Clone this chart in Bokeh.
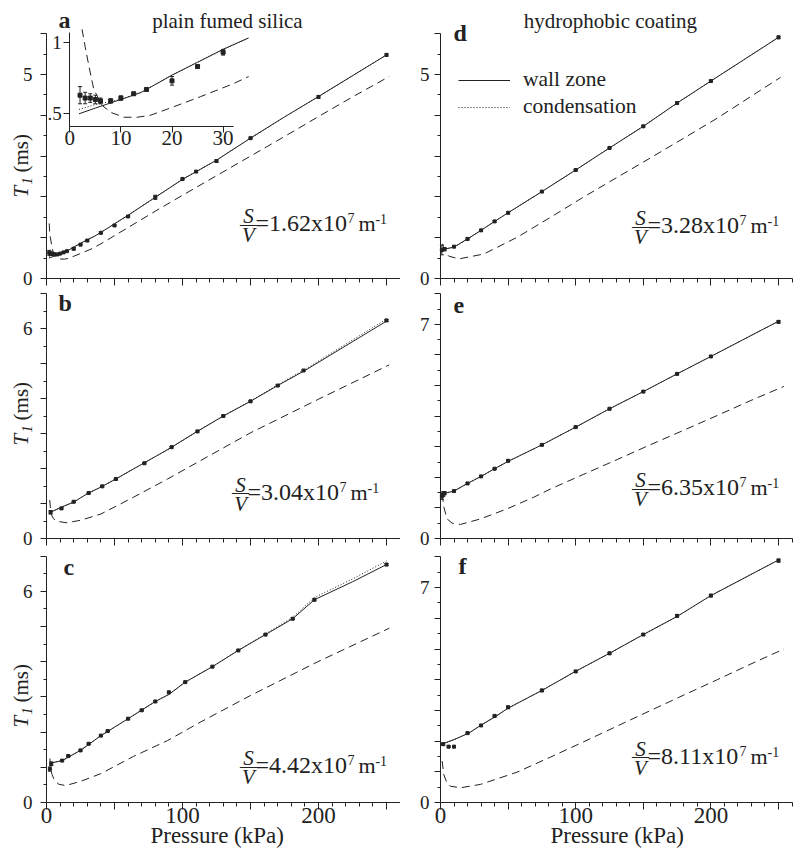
import math
from bokeh.plotting import figure
from bokeh.layouts import gridplot
from bokeh.models import (ColumnDataSource, Range1d, LinearAxis, FixedTicker, Label,
                          Legend, LegendItem, Whisker, TeeHead)
from bokeh.embed import file_html
from bokeh.resources import INLINE

FONT = "Liberation Serif"
INK = "#222222"

# ---------------- axis ticks ----------------
x_major = [0, 50, 100, 150, 200, 250]
x_minor = [10, 20, 30, 40, 60, 70, 80, 90, 110, 120, 130, 140, 160, 170, 180, 190,
           210, 220, 230, 240, 260]
x_tick_labels = {0: "0", 100: "100", 200: "200"}

# ---------------- panel a : plain fumed silica, S/V = 1.62e7 ----------------
a_fit_p = [1.8, 5, 10, 14, 20, 25, 30, 35, 40, 50, 60, 80, 100, 125, 150, 175, 200, 225, 250]
a_wall_t = [0.50, 0.54, 0.60, 0.65, 0.77, 0.86, 0.95, 1.03, 1.13, 1.34, 1.55, 1.99, 2.43,
            2.90, 3.44, 3.96, 4.46, 4.97, 5.48]
a_cond_t = [0.53, 0.565, 0.60, 0.65, 0.77, 0.86, 0.95, 1.03, 1.13, 1.34, 1.55, 1.99, 2.43,
            2.90, 3.44, 3.96, 4.46, 4.97, 5.48]
a_dash_p = [2.0, 2.4, 3.0, 3.7, 4.7, 6.3, 8, 10.6, 13.2, 15.8, 20.4, 25.6, 32, 35, 40, 50,
            60, 80, 100, 125, 150, 175, 200, 225, 252]
a_dash_t = [1.35, 1.09, 0.97, 0.84, 0.67, 0.56, 0.51, 0.476, 0.476, 0.49, 0.55, 0.62, 0.71,
            0.76, 0.85, 1.05, 1.25, 1.65, 2.04, 2.52, 3.0, 3.48, 3.97, 4.45, 4.95]
a_pts_p = [2, 3, 4, 5, 6, 8, 10, 12.5, 15, 20, 25, 30, 40, 50, 60, 80, 100, 110, 125, 150, 200, 250]
a_pts_t = [0.63, 0.61, 0.61, 0.60, 0.59, 0.59, 0.61, 0.64, 0.67, 0.73, 0.83, 0.93, 1.12, 1.30,
           1.52, 1.99, 2.44, 2.62, 2.88, 3.44, 4.45, 5.48]
a_pts_e = [0.06, 0.04, 0.03, 0.03, 0.02, 0.015, 0.015, 0.01, 0.01, 0.03, 0.01, 0.02, 0.02,
           0.02, 0.02, 0.05, 0.02, 0.02, 0.03, 0.02, 0.03, 0.03]

# ---------------- panel b : S/V = 3.04e7 ----------------
b_fit_p = [2, 10, 20, 30, 40, 50, 70, 90, 110, 130, 150, 170, 190, 210, 230, 250]
b_wall_t = [0.73, 0.88, 1.04, 1.28, 1.47, 1.68, 2.12, 2.56, 3.04, 3.50, 3.92, 4.37, 4.80,
            5.27, 5.74, 6.21]
b_cond_t = [0.73, 0.88, 1.04, 1.28, 1.47, 1.68, 2.12, 2.56, 3.04, 3.50, 3.93, 4.39, 4.83,
            5.31, 5.79, 6.27]
b_dash_p = [2.4, 3, 4, 5, 8, 15, 25, 40, 64, 89, 113, 150, 200, 252]
b_dash_t = [1.10, 0.82, 0.65, 0.57, 0.49, 0.45, 0.52, 0.70, 1.18, 1.70, 2.22, 3.02, 3.98, 4.96]
b_pts_p = [3, 11, 20, 31, 41, 51, 72, 92, 111, 130, 150, 170, 189, 250]
b_pts_t = [0.75, 0.86, 1.05, 1.30, 1.49, 1.70, 2.15, 2.61, 3.06, 3.50, 3.92, 4.37, 4.80, 6.23]
b_pts_e = [0.05, 0.02, 0.02, 0.02, 0.02, 0.02, 0.02, 0.02, 0.02, 0.02, 0.02, 0.02, 0.02, 0.03]

# ---------------- panel c : S/V = 4.42e7 ----------------
c_fit_p = [3, 11.5, 25, 40, 60, 80, 90, 102, 122, 141, 161, 181, 197, 225, 250]
c_wall_t = [1.12, 1.19, 1.48, 1.90, 2.38, 2.87, 3.07, 3.42, 3.86, 4.32, 4.77, 5.22, 5.76,
            6.27, 6.76]
c_cond_t = [1.12, 1.19, 1.48, 1.90, 2.38, 2.87, 3.07, 3.42, 3.86, 4.32, 4.79, 5.26, 5.82,
            6.35, 6.86]
c_dash_p = [2.5, 3, 4, 6, 9, 14, 25, 40, 64, 89, 113, 150, 199, 252]
c_dash_t = [1.25, 1.00, 0.80, 0.62, 0.52, 0.48, 0.60, 0.82, 1.31, 1.76, 2.28, 3.04, 3.99, 4.95]
c_pts_p = [2.5, 3.5, 11.5, 16, 25, 31, 40, 45, 60, 70, 80, 90, 102, 122, 141, 161, 181, 197, 250]
c_pts_t = [0.95, 1.10, 1.19, 1.32, 1.48, 1.67, 1.90, 2.03, 2.38, 2.62, 2.87, 3.13, 3.42, 3.86,
           4.32, 4.77, 5.22, 5.76, 6.76]
c_pts_e = [0.06, 0.05, 0.02, 0.02, 0.02, 0.02, 0.02, 0.02, 0.02, 0.02, 0.02, 0.03, 0.02, 0.02,
           0.02, 0.02, 0.02, 0.03, 0.03]

# ---------------- panel d : hydrophobic coating, S/V = 3.28e7 ----------------
d_fit_p = [0.5, 3, 10, 20, 30, 40, 50, 75, 100, 125, 150, 175, 200, 250]
d_wall_t = [0.64, 0.72, 0.77, 0.97, 1.18, 1.40, 1.61, 2.13, 2.66, 3.20, 3.73, 4.30, 4.84, 5.91]
d_cond_t = d_wall_t
d_dash_p = [1.5, 3, 6, 13.6, 32, 56.7, 81.4, 106, 130.7, 155, 180, 204.7, 251.5]
d_dash_t = [0.85, 0.68, 0.55, 0.48, 0.60, 1.01, 1.50, 2.00, 2.48, 2.95, 3.44, 3.93, 4.93]
d_pts_p = [1, 3, 10, 20, 30, 40, 50, 75, 100, 125, 150, 175, 200, 250]
d_pts_t = [0.70, 0.72, 0.78, 0.97, 1.18, 1.40, 1.61, 2.13, 2.66, 3.20, 3.73, 4.30, 4.84, 5.91]
d_pts_e = [0.12, 0.04, 0.02, 0.02, 0.02, 0.02, 0.02, 0.02, 0.02, 0.02, 0.02, 0.02, 0.02, 0.03]

# ---------------- panel e : S/V = 6.35e7 ----------------
e_fit_p = [1.2, 10, 20, 30, 40, 50, 75, 100, 125, 150, 175, 200, 250]
e_wall_t = [1.46, 1.55, 1.80, 2.03, 2.28, 2.52, 3.06, 3.64, 4.24, 4.80, 5.38, 5.95, 7.10]
e_cond_t = e_wall_t
e_dash_p = [1.2, 2.5, 4.9, 8.6, 14.8, 29.6, 49.3, 69, 81.4, 106, 130.7, 155, 180, 204.7, 229, 254]
e_dash_t = [1.46, 1.02, 0.64, 0.50, 0.46, 0.64, 0.97, 1.35, 1.62, 2.10, 2.58, 3.06, 3.54,
            4.02, 4.50, 4.97]
e_pts_p = [1, 2, 3, 10, 20, 30, 40, 50, 75, 100, 125, 150, 175, 200, 250]
e_pts_t = [1.38, 1.45, 1.48, 1.55, 1.80, 2.03, 2.28, 2.54, 3.06, 3.64, 4.24, 4.80, 5.38,
           5.95, 7.08]
e_pts_e = [0.10, 0.08, 0.05, 0.02, 0.02, 0.02, 0.02, 0.03, 0.02, 0.02, 0.02, 0.02, 0.03,
           0.03, 0.04]

# ---------------- panel f : S/V = 8.11e7 ----------------
f_fit_p = [0.5, 10, 21, 29.6, 40.7, 49.8, 75, 99.8, 125, 150, 175, 200, 250]
f_wall_t = [1.89, 2.05, 2.26, 2.51, 2.80, 3.07, 3.65, 4.27, 4.86, 5.47, 6.06, 6.74, 7.90]
f_cond_t = f_wall_t
f_dash_p = [1.2, 2.5, 4.9, 7.4, 14.8, 29.6, 49.3, 56.7, 81.4, 106, 130.7, 155, 180, 204.7,
            229, 254]
f_dash_t = [1.35, 0.90, 0.62, 0.53, 0.48, 0.59, 0.88, 0.99, 1.48, 1.98, 2.49, 2.99, 3.50,
            4.00, 4.50, 5.00]
f_pts_p = [2, 6, 10, 20, 30, 40, 50, 75, 100, 125, 150, 175, 200, 250]
f_pts_t = [1.90, 1.82, 1.82, 2.26, 2.51, 2.82, 3.10, 3.65, 4.27, 4.86, 5.47, 6.08, 6.74, 7.88]
f_pts_e = [0.04, 0.03, 0.03, 0.03, 0.03, 0.03, 0.04, 0.04, 0.03, 0.03, 0.03, 0.04, 0.04, 0.05]

# inset of panel a (same series, low-pressure part)
inset_x_ticks = [0, 10, 20, 30]
inset_y_ticks = [0.5, 1.0]
inset_y_labels = {0.5: ".5", 1.0: "1"}
INSET_PMAX = 35
INSET_TMAX = 1.1

panel_titles = {"a": "plain fumed silica", "d": "hydrophobic coating"}
sv_texts = {"a": "1.62", "b": "3.04", "c": "4.42", "d": "3.28", "e": "6.35", "f": "8.11"}

# ---------------- page layout (pixels) ----------------
COLS = {True: dict(x0=0, w=400, axis=46, ppk=1.36),      # left column
        False: dict(x0=400, w=398, axis=440, ppk=1.352)}  # right column
ROWS = [dict(y0=0, h=288), dict(y0=288, h=260), dict(y0=548, h=305)]
BASE_FIX = 0.32   # empirical raise (in em) so that labels sit on their intended baseline


def lbl(fig, text, size, dx=0.0, dy=0.0, angle=0.0, **kw):
    """Label whose (dx, dy) pixel offsets place the text baseline; dy>0 is up."""
    fix = BASE_FIX * size
    if angle:
        dx -= fix
    else:
        dy += fix
    fig.add_layout(Label(text=text, text_font_size=f"{size}px", x_offset=dx, y_offset=dy,
                         angle=angle, text_font=FONT, text_color=INK,
                         text_baseline="alphabetic", **kw))


def style_axis(ax, size="19px"):
    ax.axis_line_color = INK
    ax.axis_line_width = 1
    ax.major_tick_line_color = INK
    ax.minor_tick_line_color = INK
    ax.major_label_text_font = FONT
    ax.major_label_text_font_size = size
    ax.major_label_text_color = INK


def make_panel(key, fit_p, wall_t, cond_t, dash_p, dash_t, pts_p, pts_t, pts_e,
               ymax, ylab, left_col, row, zero_px, ppu, sv_xy, letter_dx, letter_dy,
               ylabel_y=None):
    col = COLS[left_col]
    rw = ROWS[row]
    xr = Range1d((col["x0"] - col["axis"]) / col["ppk"],
                 (col["x0"] + col["w"] - col["axis"]) / col["ppk"])
    yr = Range1d((zero_px - (rw["y0"] + rw["h"])) / ppu, (zero_px - rw["y0"]) / ppu)
    p = figure(width=col["w"], height=rw["h"], output_backend="svg", toolbar_location=None,
               x_range=xr, y_range=yr, min_border=0,
               x_axis_location=None, y_axis_location=None)
    p.outline_line_color = None
    p.xgrid.visible = False
    p.ygrid.visible = False
    p.background_fill_color = "white"
    p.border_fill_color = "white"

    # axes (placed at the data origin)
    xa = LinearAxis(ticker=FixedTicker(ticks=x_major, minor_ticks=x_minor),
                    fixed_location=0, bounds=(0, 260))
    style_axis(xa, "23px")
    xa.major_tick_out = 7
    xa.major_tick_in = 0
    xa.minor_tick_out = 4
    xa.minor_tick_in = 0
    xa.major_label_standoff = -2
    if row == 2:
        xa.major_label_overrides = {t: x_tick_labels.get(t, "") for t in x_major}
    else:
        xa.major_label_overrides = {t: "" for t in x_major}
    p.add_layout(xa, "below")

    yticks = list(range(0, ymax + 1))
    yminor = [i + 0.5 for i in range(0, ymax)]
    ya = LinearAxis(ticker=FixedTicker(ticks=yticks, minor_ticks=yminor),
                    fixed_location=0, bounds=(0, ymax))
    style_axis(ya)
    ya.major_tick_out = 6
    ya.major_tick_in = 0
    ya.minor_tick_out = 3
    ya.minor_tick_in = 0
    ya.major_label_standoff = 8 if left_col else 5
    ya.major_label_overrides = {t: (str(t) if t in ylab else "") for t in yticks}
    p.add_layout(ya, "left")

    # curves
    p.line(dash_p, dash_t, line_color=INK, line_width=1, line_dash="8 5")
    r_cond = p.line(fit_p, cond_t, line_color=INK, line_width=1, line_dash="1 2")
    r_wall = p.line(fit_p, wall_t, line_color=INK, line_width=1)

    # points with error bars
    src = ColumnDataSource(dict(p=pts_p, t=pts_t,
                                lo=[t - e for t, e in zip(pts_t, pts_e)],
                                hi=[t + e for t, e in zip(pts_t, pts_e)]))
    p.add_layout(Whisker(source=src, base="p", lower="lo", upper="hi", dimension="height",
                         line_color=INK, line_width=1,
                         lower_head=TeeHead(size=4, line_color=INK, line_width=1),
                         upper_head=TeeHead(size=4, line_color=INK, line_width=1)))
    p.scatter("p", "t", source=src, size=3, marker="square", color=INK)

    # panel letter
    lbl(p, key, 24, letter_dx, letter_dy, x=0, y=ymax, text_font_style="bold")

    # S/V annotation (anchor: left end of the fraction bar)
    sx, sy = sv_xy
    lbl(p, "S", 21, 8, 2, x=sx, y=sy, text_align="center", text_font_style="italic")
    lbl(p, "\u2014", 17, 8, -4, x=sx, y=sy, text_align="center")
    lbl(p, "V", 21, 8, -17, x=sx, y=sy, text_align="center", text_font_style="italic")
    lbl(p, "=" + sv_texts[key] + "x10", 24, 15, -6, x=sx, y=sy, text_align="left")
    lbl(p, "7", 14, 107, 2, x=sx, y=sy, text_align="left")
    lbl(p, "m", 22, 118, -6, x=sx, y=sy, text_align="left")
    lbl(p, "-1", 14, 135, 1, x=sx, y=sy, text_align="left")

    # y axis label  T1 (ms), rotated
    if ylabel_y is not None:
        rot = math.pi / 2
        lbl(p, "T", 21, -19, 0, angle=rot, x=0, y=ylabel_y, text_align="left",
            text_font_style="italic")
        lbl(p, "1", 14, -15, 13, angle=rot, x=0, y=ylabel_y, text_align="left",
            text_font_style="italic")
        lbl(p, "(ms)", 21, -19, 25, angle=rot, x=0, y=ylabel_y, text_align="left")

    if row == 2:
        lbl(p, "Pressure (kPa)", 23, 0, -40, x=125.5 if left_col else 130.7, y=0,
            text_align="center")
    if key in panel_titles:
        lbl(p, panel_titles[key], 21, 0, 6, x=133 if left_col else 125.7, y=ymax,
            text_align="center")
    return p, r_wall, r_cond


pa, _, _ = make_panel("a", a_fit_p, a_wall_t, a_cond_t, a_dash_p, a_dash_t, a_pts_p, a_pts_t,
                      a_pts_e, 6, [0, 5], True, 0, 278, 40.8, (142.6, 1.32), 12, 6,
                      ylabel_y=1.985)
pb, _, _ = make_panel("b", b_fit_p, b_wall_t, b_cond_t, b_dash_p, b_dash_t, b_pts_p, b_pts_t,
                      b_pts_e, 7, [0, 6], True, 1, 538, 35.0, (136.8, 1.29), 12, -17,
                      ylabel_y=2.66)
pc, _, _ = make_panel("c", c_fit_p, c_wall_t, c_cond_t, c_dash_p, c_dash_t, c_pts_p, c_pts_t,
                      c_pts_e, 7, [0, 6], True, 2, 802, 35.2, (142.6, 1.02), 17, -19,
                      ylabel_y=2.13)
pd_, d_wall, d_cond = make_panel("d", d_fit_p, d_wall_t, d_cond_t, d_dash_p, d_dash_t, d_pts_p,
                                 d_pts_t, d_pts_e, 6, [0, 5], False, 0, 278, 40.8,
                                 (142, 1.27), 13, -7)
pe, _, _ = make_panel("e", e_fit_p, e_wall_t, e_cond_t, e_dash_p, e_dash_t, e_pts_p, e_pts_t,
                      e_pts_e, 8, [0, 7], False, 1, 538, 30.6, (142, 1.63), 13, -19)
pf, _, _ = make_panel("f", f_fit_p, f_wall_t, f_cond_t, f_dash_p, f_dash_t, f_pts_p, f_pts_t,
                      f_pts_e, 8, [0, 7], False, 2, 802, 30.7, (142, 1.47), 18, -17)

# legend in panel d (location measured from the bottom-left of the panel, in pixels)
leg = Legend(items=[LegendItem(label="wall zone", renderers=[d_wall]),
                    LegendItem(label="condensation", renderers=[d_cond])],
             location=(58, 169), glyph_width=52, glyph_height=20, label_height=20,
             label_standoff=13, spacing=2, padding=0, margin=0,
             border_line_color=None, background_fill_alpha=0,
             label_text_font=FONT, label_text_font_size="21.5px", label_text_color=INK)
pd_.add_layout(leg)

# inset in panel a: page mapping x = 69.3 + 5.11*P, y = 113.3 - 143.2*(T - 0.5)
IX0, IXK, IY0, IYK = 69.3, 5.11, 113.3, 143.2
A_TOP, A_BOT = ROWS[0]["y0"], ROWS[0]["y0"] + ROWS[0]["h"]
pa.extra_x_ranges = {"ix": Range1d((0 - IX0) / IXK, (400 - IX0) / IXK)}
pa.extra_y_ranges = {"iy": Range1d(0.5 + (IY0 - A_BOT) / IYK, 0.5 + (IY0 - A_TOP) / IYK)}
ins_fit = [(p_, w, c) for p_, w, c in zip(a_fit_p, a_wall_t, a_cond_t) if p_ <= INSET_PMAX]
ins_dash = [(p_, t) for p_, t in zip(a_dash_p, a_dash_t)
            if p_ <= INSET_PMAX and t <= INSET_TMAX]
ins_pts = [(p_, t, e) for p_, t, e in zip(a_pts_p, a_pts_t, a_pts_e) if p_ <= 30]
pa.line([q[0] for q in ins_dash], [q[1] for q in ins_dash], x_range_name="ix",
        y_range_name="iy", line_color=INK, line_width=1, line_dash="8 5")
pa.line([q[0] for q in ins_fit], [q[2] for q in ins_fit], x_range_name="ix",
        y_range_name="iy", line_color=INK, line_width=1, line_dash="1 2")
pa.line([q[0] for q in ins_fit], [q[1] for q in ins_fit], x_range_name="ix",
        y_range_name="iy", line_color=INK, line_width=1)
isrc = ColumnDataSource(dict(p=[q[0] for q in ins_pts], t=[q[1] for q in ins_pts],
                             lo=[q[1] - q[2] for q in ins_pts],
                             hi=[q[1] + q[2] for q in ins_pts]))
pa.add_layout(Whisker(source=isrc, base="p", lower="lo", upper="hi", dimension="height",
                      x_range_name="ix", y_range_name="iy", line_color=INK, line_width=1,
                      lower_head=TeeHead(size=4, line_color=INK, line_width=1),
                      upper_head=TeeHead(size=4, line_color=INK, line_width=1)))
pa.scatter("p", "t", source=isrc, x_range_name="ix", y_range_name="iy", size=4,
           marker="square", color=INK)

ixa = LinearAxis(x_range_name="ix", y_range_name="iy", fixed_location=0.413, bounds=(0, 32),
                 ticker=FixedTicker(ticks=inset_x_ticks, minor_ticks=[]))
style_axis(ixa, "21px")
ixa.major_tick_out = 6
ixa.major_tick_in = 0
ixa.minor_tick_out = 0
ixa.major_label_standoff = -1
pa.add_layout(ixa, "below")
iya = LinearAxis(x_range_name="ix", y_range_name="iy", fixed_location=0, bounds=(0.413, 1.068),
                 ticker=FixedTicker(ticks=inset_y_ticks, minor_ticks=[]))
style_axis(iya, "19px")
iya.major_tick_out = 6
iya.major_tick_in = 0
iya.minor_tick_out = 0
iya.major_label_standoff = 2
iya.major_label_overrides = inset_y_labels
pa.add_layout(iya, "left")

grid = gridplot([[pa, pd_], [pb, pe], [pc, pf]], toolbar_location=None)

open("out.html", "w").write(file_html(grid, INLINE))
